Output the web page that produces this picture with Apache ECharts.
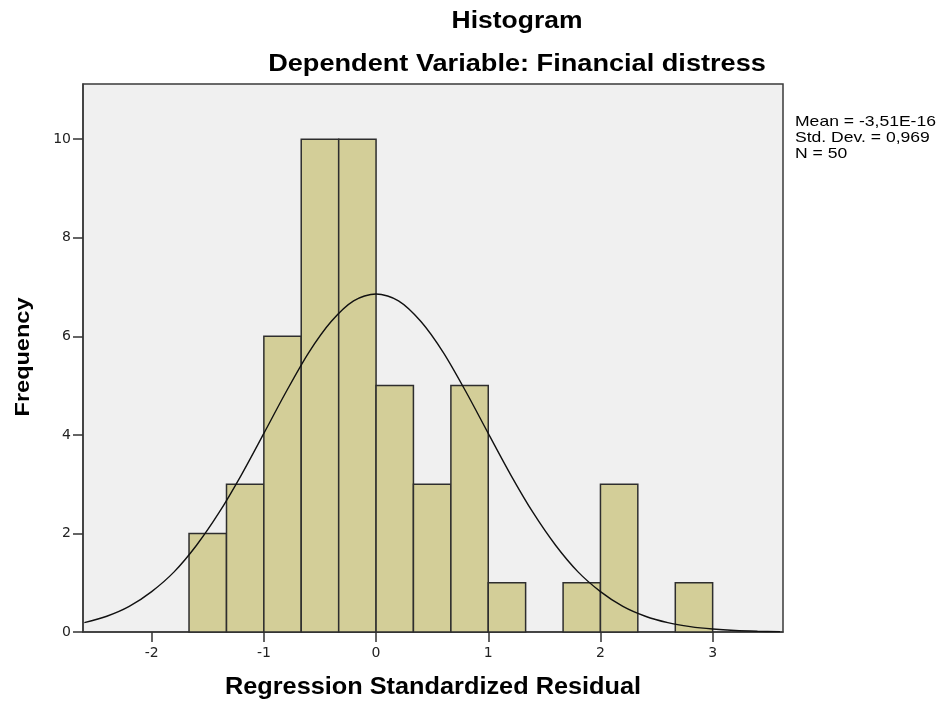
<!DOCTYPE html>
<html>
<head>
<meta charset="utf-8">
<script src="https://cdn.jsdelivr.net/npm/echarts@6/dist/echarts.min.js"></script>
<style>html,body{margin:0;padding:0;background:#fff;}#c{width:944px;height:701px;}</style>
</head>
<body>
<div id="c"></div>
<script>
// Histogram bins (edges) and counts
const binStart = [-1.667, -1.333, -1.0, -0.667, -0.333, 0.0, 0.333, 0.667, 1.0, 1.333, 1.667, 2.0, 2.333, 2.667];
const binEnd   = [-1.333, -1.0, -0.667, -0.333, 0.0, 0.333, 0.667, 1.0, 1.333, 1.667, 2.0, 2.333, 2.667, 3.0];
const counts   = [2, 3, 6, 10, 10, 5, 3, 5, 1, 0, 1, 3, 0, 1];
// Normal curve
const curveX = [-2.6,-2.4,-2.2,-2.0,-1.8,-1.6,-1.4,-1.2,-1.0,-0.8,-0.6,-0.4,-0.2,0,0.2,0.4,0.6,0.8,1.0,1.2,1.4,1.6,1.8,2.0,2.2,2.4,2.6,2.8,3.0,3.2,3.4,3.6];
const curveY = [0.19,0.32,0.52,0.82,1.22,1.76,2.42,3.19,4.03,4.88,5.67,6.30,6.72,6.86,6.72,6.30,5.67,4.88,4.03,3.19,2.42,1.76,1.22,0.82,0.52,0.32,0.19,0.11,0.06,0.03,0.015,0.007];
const xTicks = [-2, -1, 0, 1, 2, 3];
const yTicks = [0, 2, 4, 6, 8, 10];
const titleText = 'Histogram';
const subtitleText = 'Dependent Variable: Financial distress';
const xName = 'Regression Standardized Residual';
const yName = 'Frequency';
const statsLines = ['Mean = -3,51E-16', 'Std. Dev. = 0,969', 'N = 50'];

const barData = binStart.map((s, i) => [s, binEnd[i], counts[i]]).filter(d => d[2] > 0);
const lineData = curveX.map((x, i) => [x, curveY[i]]);

const chart = echarts.init(document.getElementById('c'), null, {renderer: 'canvas'});
const font = 'Liberation Sans, Arial, sans-serif';
const tickFont = 'DejaVu Sans, Verdana, sans-serif';

function txt(text, x, y, size, weight, opts) {
  opts = opts || {};
  return {
    type: 'text', x: x, y: y, rotation: opts.rotation || 0,
    scaleX: opts.scaleX || 1, scaleY: opts.scaleY || 1, z: 100,
    style: {
      text: text, fill: '#000',
      font: weight + ' ' + size + 'px ' + font,
      textAlign: opts.align || 'center', align: opts.align || 'center',
      textVerticalAlign: opts.valign || 'middle', verticalAlign: opts.valign || 'middle',
      lineHeight: opts.lineHeight
    }
  };
}

chart.setOption({
  animation: false,
  backgroundColor: '#ffffff',
  textStyle: {fontFamily: font},
  graphic: [
    txt(titleText, 517, 22, 23, 'bold', {scaleX: 1.15}),
    txt(subtitleText, 517, 65, 23, 'bold', {scaleX: 1.18}),
    txt(xName, 433, 688, 23, 'bold', {scaleX: 1.1}),
    txt(yName, 23, 357, 21, 'bold', {rotation: Math.PI / 2, scaleX: 1.12}),
    txt(statsLines.join('\n'), 795, 114, 15, 'normal', {align: 'left', valign: 'top', scaleX: 1.17, lineHeight: 16})
  ],
  grid: {left: 83, top: 84, width: 700, height: 548, show: true,
         backgroundColor: '#f0f0f0', borderColor: '#3a3a3a', borderWidth: 1.5},
  xAxis: {
    type: 'value', min: -2.612, max: 3.627,
    splitLine: {show: false},
    axisLine: {show: true, onZero: false, lineStyle: {color: '#3a3a3a', width: 1.5}},
    axisTick: {show: true, customValues: xTicks, length: 10, lineStyle: {color: '#333', width: 1.5}},
    axisLabel: {customValues: xTicks, fontSize: 14, color: '#222', margin: 14, fontFamily: tickFont}
  },
  yAxis: {
    type: 'value', min: 0, max: 11.12,
    splitLine: {show: false},
    axisLine: {show: true, onZero: false, lineStyle: {color: '#3a3a3a', width: 1.5}},
    axisTick: {show: true, customValues: yTicks, length: 10, lineStyle: {color: '#333', width: 1.5}},
    axisLabel: {customValues: yTicks, fontSize: 14, color: '#222', margin: 12, fontFamily: tickFont}
  },
  series: [
    {
      type: 'custom',
      data: barData,
      encode: {x: [0, 1], y: 2},
      renderItem: function (params, api) {
        const p0 = api.coord([api.value(0), api.value(2)]);
        const p1 = api.coord([api.value(1), 0]);
        return {
          type: 'rect',
          shape: {x: p0[0], y: p0[1], width: p1[0] - p0[0], height: p1[1] - p0[1]},
          style: {fill: '#d3ce98', stroke: '#2e2e2e', lineWidth: 1.5}
        };
      },
      z: 2
    },
    {
      type: 'line',
      data: lineData,
      smooth: 0.3,
      symbol: 'none',
      clip: true,
      lineStyle: {color: '#111', width: 1.4},
      z: 3
    }
  ]
});
</script>
</body>
</html>
